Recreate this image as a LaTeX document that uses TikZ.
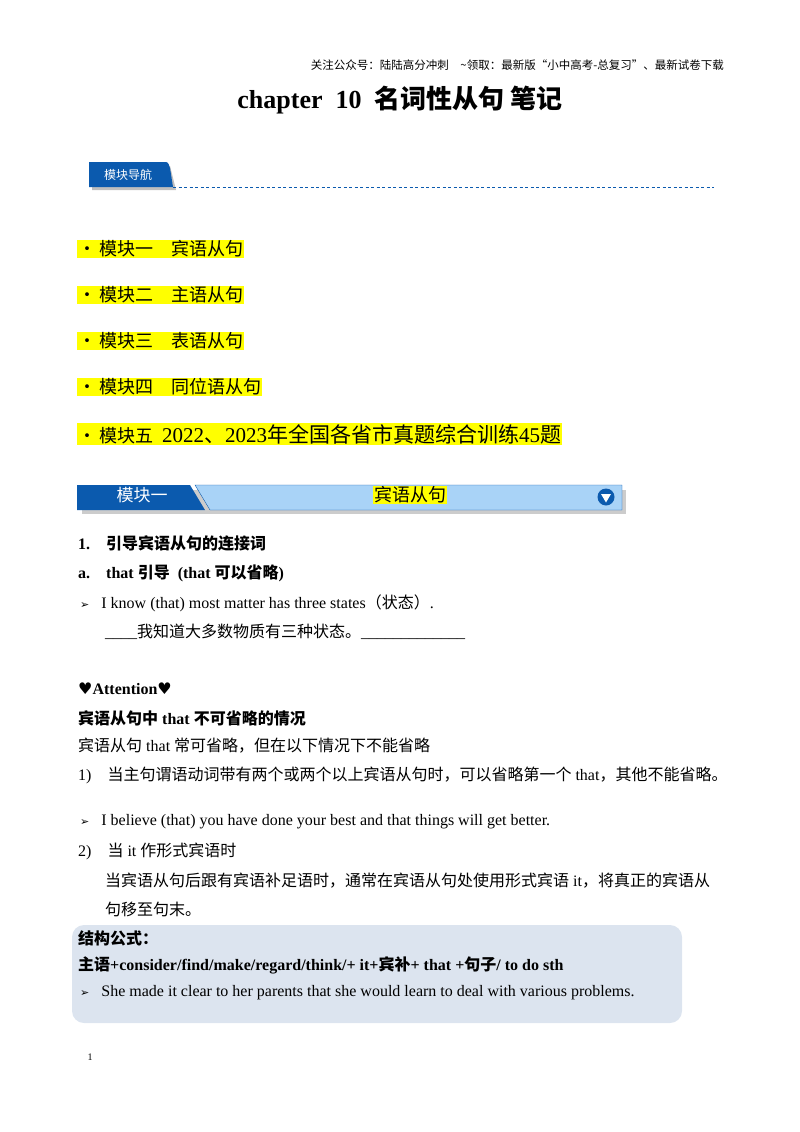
\documentclass[tikz,border=0pt]{standalone}
\usepackage{fontspec}
\setmainfont{Liberation Serif}
\newfontfamily\cjk{Noto Sans CJK SC}
\newfontfamily\sym{DejaVu Sans}
\newcommand{\zh}[1]{{\cjk #1}}
\definecolor{dblue}{HTML}{0B5AAE}
\definecolor{lblue}{HTML}{A9D3F7}
\definecolor{boxbg}{HTML}{DCE4EF}
\definecolor{hl}{HTML}{FFFF00}
\begin{document}
\begin{tikzpicture}[x=1pt,y=-1pt,
  txt/.style={anchor=west,inner sep=0pt,font=\fontsize{16}{18}\selectfont},
  btxt/.style={anchor=west,inner sep=0pt,font=\fontsize{16}{18}\selectfont\bfseries},
  item/.style={anchor=west,inner sep=1pt,fill=hl,font=\fontsize{18}{22}\selectfont}]
\useasboundingbox (0,0) rectangle (800,1132);
\node[anchor=east,inner sep=0pt,font=\fontsize{11.5}{13}\selectfont] (hdr) at (724,65) {\zh{关注公众号：陆陆高分冲刺\quad \~{}领取：最新版“小中高考-总复习”、最新试卷下载}};
\node[inner sep=0pt,font=\fontsize{26}{30}\selectfont\bfseries] (title) at (400,100) {chapter\ \ 10\ \ \zh{\bfseries 名词性从句\ 笔记}};
% nav tab
\fill[gray!50] (92,166) -- (170,166) -- (176,190) -- (92,190) -- cycle;
\fill[dblue] (89,162) -- (164,162) .. controls (168,162) .. (170,168) -- (173,187) -- (89,187) -- cycle;
\node[text=white,inner sep=0pt,font=\fontsize{12}{14}\selectfont] (nav) at (128,175) {\zh{模块导航}};
\draw[dblue,dash pattern=on 3pt off 2.5pt,thick] (173,187) -- (714,187);
% list
\node[item] (i1) at (77,249) {\zh{•\,模块一\quad 宾语从句}};
\node[item] (i2) at (77,295) {\zh{•\,模块二\quad 主语从句}};
\node[item] (i3) at (77,341) {\zh{•\,模块三\quad 表语从句}};
\node[item] (i4) at (77,387) {\zh{•\,模块四\quad 同位语从句}};
\node[item] (i5) at (77,434) {\zh{•\,模块五}\ \ {\fontsize{21}{24}\selectfont 2022\zh{、}2023\zh{年全国各省市真题综合训练}45\zh{题}}};
% module bar
\fill[gray!40] (82,490) rectangle (626,514);
\fill[lblue] (195,485) -- (622,485) -- (622,510) -- (210,510) -- cycle;
\draw[dblue,thin] (195,485) -- (622,485) -- (622,510) -- (210,510) -- cycle;
\fill[dblue] (77,485) -- (190,485) -- (205,510) -- (77,510) -- cycle;
\node[text=white,inner sep=0pt,font=\fontsize{17}{18}\selectfont] (m1) at (142,495) {\zh{模块一}};
\node[fill=hl,inner sep=1pt,font=\fontsize{18}{20}\selectfont] (m1t) at (410,495) {\zh{宾语从句}};
\fill[dblue] (606,497) circle (8.5);
\fill[white] (601,494) -- (611,494) -- (606,502.5) -- cycle;
% body
\node[btxt] (l1) at (78,543) {1.\ \ \ \ \zh{\bfseries 引导宾语从句的连接词}};
\node[btxt] (l2) at (78,573) {a.\ \ \ \ that \zh{\bfseries 引导}\ \ (that \zh{\bfseries 可以省略})};
\node[txt] (l3) at (80,603) {{\sym\fontsize{11}{12}\selectfont ➢}\ \ \ I know (that) most matter has three states\zh{（状态）}.};
\node[txt] (l4) at (105,632) {\_\_\_\_\zh{我知道大多数物质有三种状态。}\_\_\_\_\_\_\_\_\_\_\_\_\_};
\node[btxt] (l5) at (78,689) {{\sym ♥}Attention{\sym ♥}};
\node[btxt] (l6) at (78,718) {\zh{\bfseries 宾语从句中} that \zh{\bfseries 不可省略的情况}};
\node[txt] (l7) at (78,746) {\zh{宾语从句} that \zh{常可省略，但在以下情况下不能省略}};
\node[txt] (l8) at (78,775) {1)\ \ \ \ \zh{当主句谓语动词带有两个或两个以上宾语从句时，可以省略第一个} that\zh{，其他不能省略。}};
\node[txt] (l9) at (80,822) {{\sym\fontsize{11}{12}\selectfont ➢}\ \ \ I believe (that) you have done your best and that things will get better.};
\node[txt] (l10) at (78,851) {2)\ \ \ \ \zh{当} it \zh{作形式宾语时}};
\node[txt] (l11) at (105,881) {\zh{当宾语从句后跟有宾语补足语时，通常在宾语从句处使用形式宾语} it\zh{，将真正的宾语从}};
\node[txt] (l12) at (105,909) {\zh{句移至句末。}};
\fill[boxbg,rounded corners=12pt] (72,925) rectangle (682,1023);
\node[btxt] (l13) at (78,938) {\zh{\bfseries 结构公式：}};
\node[btxt] (l14) at (78,965) {\zh{\bfseries 主语}+consider/find/make/regard/think/+ it+\zh{\bfseries 宾补}+ that +\zh{\bfseries 句子}/ to do sth};
\node[txt] (l15) at (80,993) {{\sym\fontsize{11}{12}\selectfont ➢}\ \ \ She made it clear to her parents that she would learn to deal with various problems.};
\node[inner sep=0pt,font=\fontsize{10}{12}\selectfont] (pg) at (90,1057) {1};
\end{tikzpicture}
\end{document}
